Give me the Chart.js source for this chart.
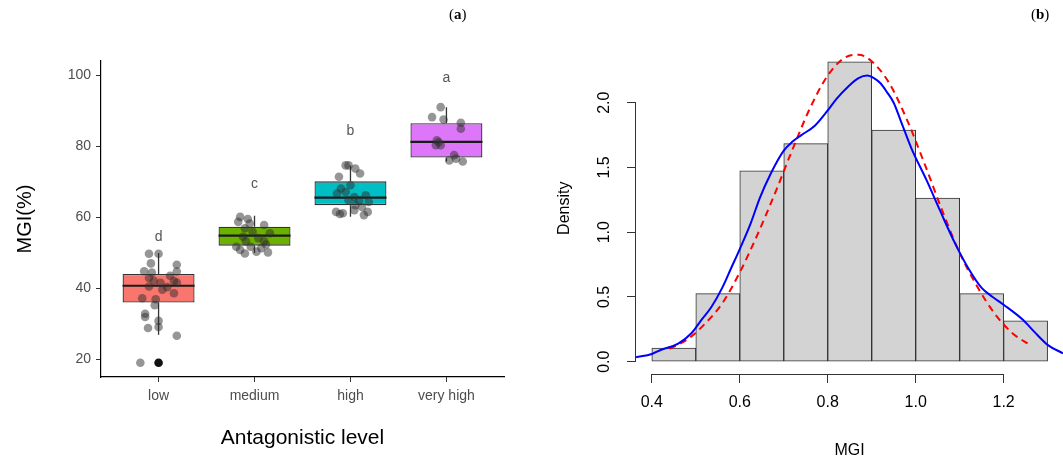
<!DOCTYPE html>
<html>
<head>
<meta charset="utf-8">
<title>MGI by antagonistic level</title>
<script src="https://cdn.jsdelivr.net/npm/chart.js@4.4.1/dist/chart.umd.min.js"></script>
<style>
  html, body { margin: 0; padding: 0; background: #fff; }
  #wrap { position: relative; width: 1063px; height: 461px; overflow: hidden; }
  .panel { position: absolute; top: 0; height: 461px; }
  #boxPanel { left: 0; width: 530px; }
  #histPanel { left: 530px; width: 533px; }
  .tag { position: absolute; top: 6px; font-family: 'Liberation Serif', 'Times New Roman', serif; font-size: 15px; color: #000; }
</style>
</head>
<body>
<div id="wrap">
  <div class="panel" id="boxPanel"><canvas id="boxChart" width="530" height="461"></canvas></div>
  <div class="panel" id="histPanel"><canvas id="histChart" width="533" height="461"></canvas></div>
  <div class="tag" style="left:449px">(<b>a</b>)</div>
  <div class="tag" style="left:1031px">(<b>b</b>)</div>
</div>
<script>
const FONT = "'Liberation Sans', Arial, sans-serif";

// Panel (a): box plot data
const levels = ['low', 'medium', 'high', 'very high'];
const boxColors = ['#F8766D', '#6BB100', '#00BFC4', '#DD76F8'];
const boxQ1 = [36.1, 52.1, 63.5, 76.9];
const boxMedian = [40.8, 54.9, 65.6, 81.3];
const boxQ3 = [44.1, 57.4, 70.2, 86.6];
const whiskerLow = [27.0, 50.0, 60.2, 75.8];
const whiskerHigh = [50.0, 60.5, 74.7, 91.1];
const outlierLevel = [1];
const outlierValue = [19.1];
const groupLetters = ['d', 'c', 'b', 'a'];
const letterValue = [54.5, 69.4, 84.3, 99.4];

// jittered observations: [offset from group centre, MGI %]
const lowPoints = [
  [-0.10, 49.8], [0.00, 49.8], [-0.08, 47.1], [-0.15, 44.9], [0.19, 46.7], [0.19, 44.8],
  [-0.10, 43.0], [-0.05, 42.2], [0.02, 41.6], [0.16, 42.1], [0.19, 41.7], [-0.10, 40.6],
  [0.04, 39.7], [0.09, 40.4], [0.16, 38.7], [-0.17, 37.3], [-0.03, 37.0], [-0.04, 35.3],
  [-0.14, 32.9], [-0.14, 32.0], [0.00, 30.9], [-0.11, 28.9], [0.00, 29.2], [0.19, 26.7],
  [-0.19, 19.1], [0.12, 43.6], [-0.07, 44.5]
];
const mediumPoints = [
  [-0.15, 60.2], [-0.07, 59.6], [-0.17, 58.8], [0.10, 57.9], [-0.10, 57.0], [-0.02, 56.0],
  [0.16, 55.6], [-0.12, 54.6], [0.04, 54.2], [-0.09, 53.3], [0.10, 53.3], [-0.19, 51.8],
  [-0.04, 51.8], [-0.15, 50.9], [0.07, 51.4], [-0.10, 49.9], [0.14, 50.2], [0.02, 50.4],
  [-0.05, 58.3], [0.12, 52.4]
];
const highPoints = [
  [-0.05, 74.7], [-0.02, 74.7], [0.05, 73.8], [0.10, 72.4], [-0.12, 71.5], [0.00, 69.1],
  [-0.10, 68.2], [-0.05, 67.2], [-0.14, 66.8], [0.16, 66.3], [0.04, 65.8], [0.09, 64.9],
  [-0.02, 64.9], [0.19, 64.4], [0.05, 63.5], [0.12, 63.0], [0.04, 62.1], [-0.15, 61.6],
  [-0.08, 61.2], [0.14, 60.7], [0.18, 61.6], [-0.11, 61.0]
];
const veryHighPoints = [
  [-0.06, 91.1], [-0.15, 88.3], [-0.03, 87.6], [0.15, 86.7], [0.15, 85.0], [-0.10, 81.8],
  [-0.06, 80.4], [-0.11, 80.4], [-0.08, 81.2], [0.08, 77.6], [0.10, 76.6], [0.03, 76.1],
  [0.17, 75.8]
];
const yTicksA = [20, 40, 60, 80, 100];

// Panel (b): histogram + density curves
const binStart = [0.4, 0.5, 0.6, 0.7, 0.8, 0.9, 1.0, 1.1, 1.2];
const binWidth = 0.1;
const density = [0.105, 0.526, 1.474, 1.684, 2.316, 1.789, 1.263, 0.526, 0.316];
const kdeX = [0.364, 0.40, 0.42, 0.46, 0.49, 0.51, 0.535, 0.56, 0.58, 0.60, 0.625, 0.645, 0.67,
  0.70, 0.72, 0.74, 0.77, 0.80, 0.82, 0.845, 0.87, 0.89, 0.905, 0.92, 0.935, 0.95, 0.965,
  0.99, 1.025, 1.055, 1.09, 1.12, 1.15, 1.175, 1.20, 1.245, 1.27, 1.30, 1.335];
const kdeY = [0.034, 0.06, 0.09, 0.14, 0.22, 0.31, 0.42, 0.57, 0.72, 0.87, 1.07, 1.26, 1.45,
  1.63, 1.70, 1.75, 1.82, 1.94, 2.03, 2.12, 2.19, 2.21, 2.19, 2.15, 2.08, 2.00, 1.87,
  1.65, 1.40, 1.17, 0.91, 0.72, 0.57, 0.50, 0.44, 0.32, 0.23, 0.13, 0.065];
const normX = [0.44, 0.48, 0.52, 0.56, 0.60, 0.64, 0.68, 0.72, 0.76, 0.80, 0.84, 0.87, 0.90,
  0.94, 0.98, 1.02, 1.06, 1.10, 1.14, 1.18, 1.22, 1.26];
const normY = [0.10, 0.17, 0.29, 0.45, 0.69, 0.98, 1.30, 1.64, 1.96, 2.21, 2.35, 2.37, 2.32,
  2.15, 1.87, 1.53, 1.17, 0.84, 0.58, 0.37, 0.22, 0.13];
const xTicksB = [0.4, 0.6, 0.8, 1.0, 1.2];
const yTicksB = [0, 0.5, 1.0, 1.5, 2.0];

// ---------- panel (a) ----------
const jitterData = [lowPoints, mediumPoints, highPoints, veryHighPoints]
  .flatMap((pts, i) => pts.map(p => ({ x: i + 1 + p[0], y: p[1] })));

const medianSegs = [];
const whiskerSegs = [];
levels.forEach((l, i) => {
  const c = i + 1;
  medianSegs.push({ x: c - 0.375, y: boxMedian[i] }, { x: c + 0.375, y: boxMedian[i] }, { x: c + 0.5, y: null });
  whiskerSegs.push({ x: c, y: boxQ3[i] }, { x: c, y: whiskerHigh[i] }, { x: c, y: null });
  whiskerSegs.push({ x: c, y: boxQ1[i] }, { x: c, y: whiskerLow[i] }, { x: c, y: null });
});

const letterPlugin = {
  id: 'letters',
  afterDatasetsDraw(chart) {
    const { ctx, scales: { x, y } } = chart;
    ctx.save();
    ctx.font = `14px ${FONT}`;
    ctx.fillStyle = '#555';
    ctx.textAlign = 'center';
    ctx.textBaseline = 'middle';
    groupLetters.forEach((t, i) => {
      ctx.fillText(t, x.getPixelForValue(i + 1), y.getPixelForValue(letterValue[i]));
    });
    ctx.restore();
  }
};

new Chart(document.getElementById('boxChart'), {
  type: 'bar',
  data: {
    datasets: [
      {
        type: 'line', label: 'observations', data: jitterData, showLine: false,
        pointRadius: 4.3, pointBorderWidth: 0, pointBackgroundColor: 'rgba(45,45,45,0.5)', order: 0
      },
      {
        type: 'line', label: 'outliers',
        data: outlierLevel.map((l, i) => ({ x: l, y: outlierValue[i] })), showLine: false,
        pointRadius: 4.3, pointBorderWidth: 0, pointBackgroundColor: '#111', order: 1
      },
      {
        type: 'line', label: 'median', data: medianSegs, borderColor: '#1a1a1a',
        borderWidth: 2.2, pointRadius: 0, spanGaps: false, order: 2
      },
      {
        type: 'line', label: 'whiskers', data: whiskerSegs, borderColor: '#333',
        borderWidth: 1.3, pointRadius: 0, spanGaps: false, order: 3
      },
      {
        type: 'bar', label: 'boxes',
        data: levels.map((l, i) => ({ x: i + 1, y: [boxQ1[i], boxQ3[i]] })),
        backgroundColor: boxColors, borderColor: '#333', borderWidth: 1.3, borderSkipped: false,
        barPercentage: 0.75, categoryPercentage: 1, order: 4
      }
    ]
  },
  options: {
    responsive: false,
    animation: false,
    layout: { padding: { left: 0, right: 26, top: 61, bottom: 0 } },
    plugins: { legend: { display: false }, tooltip: { enabled: false } },
    scales: {
      x: {
        type: 'linear', min: 0.4, max: 4.6, offset: false,
        afterBuildTicks: s => { s.ticks = levels.map((l, i) => ({ value: i + 1 })); },
        afterFit: s => { s.height = 84; },
        ticks: {
          callback: v => levels[v - 1], color: '#4d4d4d', font: { family: FONT, size: 14 },
          padding: 6, maxRotation: 0, autoSkip: false
        },
        grid: { offset: false, drawOnChartArea: false, tickLength: 5, color: '#333' },
        border: { display: true, color: '#000', width: 1.2 },
        title: {
          display: true, text: 'Antagonistic level', color: '#000',
          font: { family: FONT, size: 21 }, padding: { bottom: 10 }
        }
      },
      y: {
        type: 'linear', min: 15.1, max: 104.1, beginAtZero: false,
        afterBuildTicks: s => { s.ticks = yTicksA.map(v => ({ value: v })); },
        afterFit: s => { s.width = 101; },
        ticks: { color: '#4d4d4d', font: { family: FONT, size: 14 }, padding: 5 },
        grid: { drawOnChartArea: false, tickLength: 5, color: '#333' },
        border: { display: true, color: '#000', width: 1.2 },
        title: {
          display: true, text: 'MGI(%)', color: '#000',
          font: { family: FONT, size: 20 }, padding: { top: 13 }
        }
      }
    }
  },
  plugins: [letterPlugin]
});

// ---------- panel (b) ----------
// base-R style axes: line only across the tick range, rotated y labels
const rAxisPlugin = {
  id: 'rAxis',
  afterDraw(chart) {
    const { ctx, chartArea, scales: { x, y } } = chart;
    ctx.save();
    ctx.strokeStyle = '#333';
    ctx.lineWidth = 1;
    ctx.beginPath();
    ctx.moveTo(x.getPixelForValue(xTicksB[0]), chartArea.bottom + 0.5);
    ctx.lineTo(x.getPixelForValue(xTicksB[xTicksB.length - 1]), chartArea.bottom + 0.5);
    ctx.moveTo(chartArea.left - 0.5, y.getPixelForValue(yTicksB[0]));
    ctx.lineTo(chartArea.left - 0.5, y.getPixelForValue(yTicksB[yTicksB.length - 1]));
    ctx.stroke();
    ctx.font = `16px ${FONT}`;
    ctx.fillStyle = '#000';
    ctx.textAlign = 'center';
    ctx.textBaseline = 'middle';
    yTicksB.forEach(v => {
      ctx.save();
      ctx.translate(chartArea.left - 31, y.getPixelForValue(v));
      ctx.rotate(-Math.PI / 2);
      ctx.fillText(v.toFixed(1), 0, 0);
      ctx.restore();
    });
    ctx.restore();
  }
};

new Chart(document.getElementById('histChart'), {
  type: 'bar',
  data: {
    datasets: [
      {
        type: 'line', label: 'kernel density', data: kdeX.map((v, i) => ({ x: v, y: kdeY[i] })),
        borderColor: '#0000FF', borderWidth: 2, pointRadius: 0, cubicInterpolationMode: 'monotone', order: 0
      },
      {
        type: 'line', label: 'normal', data: normX.map((v, i) => ({ x: v, y: normY[i] })),
        borderColor: '#FF0000', borderWidth: 2, borderDash: [7, 5], pointRadius: 0,
        cubicInterpolationMode: 'monotone', order: 1
      },
      {
        type: 'bar', label: 'MGI',
        data: binStart.map((b, i) => ({ x: b + binWidth / 2, y: density[i] })),
        backgroundColor: '#D3D3D3', borderColor: '#333', borderWidth: 1, borderSkipped: false,
        barPercentage: 1, categoryPercentage: 1, order: 2
      }
    ]
  },
  options: {
    responsive: false,
    animation: false,
    layout: { padding: { left: 0, right: 0, top: 42.5, bottom: 0 } },
    plugins: { legend: { display: false }, tooltip: { enabled: false } },
    scales: {
      x: {
        type: 'linear', min: 0.364, max: 1.335, offset: false,
        afterBuildTicks: s => { s.ticks = xTicksB.map(v => ({ value: v })); },
        afterFit: s => { s.height = 87; },
        ticks: {
          callback: v => v.toFixed(1), color: '#000', font: { family: FONT, size: 16 },
          padding: 10, maxRotation: 0, autoSkip: false
        },
        grid: { offset: false, drawOnChartArea: false, tickLength: 9, color: '#333' },
        border: { display: false },
        title: {
          display: true, text: 'MGI', color: '#000',
          font: { family: FONT, size: 16 }, padding: { bottom: 1 }
        }
      },
      y: {
        type: 'linear', min: -0.095, max: 2.465, beginAtZero: false,
        afterBuildTicks: s => { s.ticks = yTicksB.map(v => ({ value: v })); },
        afterFit: s => { s.width = 106; },
        ticks: { display: false },
        grid: { drawOnChartArea: false, tickLength: 9, color: '#333' },
        border: { display: false },
        title: {
          display: true, text: 'Density', color: '#000',
          font: { family: FONT, size: 16 }, padding: { top: 25 }
        }
      }
    }
  },
  plugins: [rAxisPlugin]
});
</script>
</body>
</html>
